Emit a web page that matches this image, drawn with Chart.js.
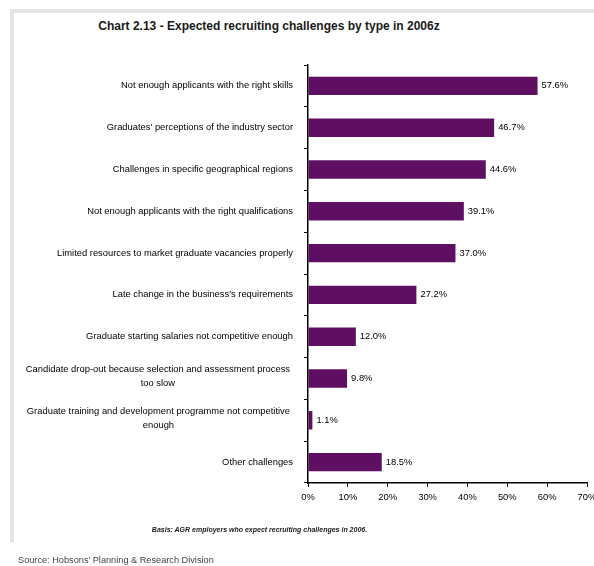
<!DOCTYPE html>
<html>
<head>
<meta charset="utf-8">
<script src="https://cdn.jsdelivr.net/npm/chart.js@4"></script>
<style>
  html, body { margin: 0; padding: 0; background: #fff; overflow: hidden; }
  body { width: 594px; height: 566px; position: relative; font-family: "Liberation Sans", Arial, sans-serif; }
  .frame-top { position: absolute; left: 10px; top: 9px; width: 584px; height: 4px; background: #e4e4e4; }
  .frame-left { position: absolute; left: 10px; top: 9px; width: 4px; height: 533px; background: #e4e4e4; }
  #title { position: absolute; left: 0; width: 538px; top: 19px; text-align: center; font-weight: bold; font-size: 12px; color: #1a1a1a; }
  #basis { position: absolute; left: 0; width: 519px; top: 526px; text-align: center; font-weight: bold; font-style: italic; font-size: 7px; color: #1a1a1a; }
  #source { position: absolute; left: 18px; top: 555px; font-size: 9.2px; color: #444; }
  #wrap { position: absolute; left: 0; top: 0; width: 620px; height: 566px; }
</style>
</head>
<body>
<div class="frame-top"></div>
<div class="frame-left"></div>
<div id="title">Chart 2.13 - Expected recruiting challenges by type in 2006z</div>
<div id="wrap"><canvas id="chart"></canvas></div>
<div id="basis">Basis: AGR employers who expect recruiting challenges in 2006.</div>
<div id="source">Source: Hobsons’ Planning &amp; Research Division</div>
<script>
// Challenge types (multi-line entries are wrapped labels)
const categories = [
  'Not enough applicants with the right skills',
  "Graduates' perceptions of the industry sector",
  'Challenges in specific geographical regions',
  'Not enough applicants with the right qualifications',
  'Limited resources to market graduate vacancies properly',
  "Late change in the business's requirements",
  'Graduate starting salaries not competitive enough',
  ['Candidate drop-out because selection and assessment process', 'too slow'],
  ['Graduate training and development programme not competitive', 'enough'],
  'Other challenges'
];

// Share of employers expecting each challenge (%)
const shares = [57.6, 46.7, 44.6, 39.1, 37.0, 27.2, 12.0, 9.8, 1.1, 18.5];

// Percentage axis ticks
const xTicks = [0, 10, 20, 30, 40, 50, 60, 70];

const FONT = '"Liberation Sans", Arial, sans-serif';
const LABEL_FONT = '9.4px ' + FONT;
const TEXT_COLOR = '#000';

// Category labels: single lines right-aligned against the axis,
// wrapped labels centred within a right-aligned block
const categoryLabels = {
  id: 'categoryLabels',
  afterDraw(chart) {
    const ctx = chart.ctx;
    const y = chart.scales.y;
    const right = 293;
    ctx.save();
    ctx.font = LABEL_FONT;
    ctx.fillStyle = TEXT_COLOR;
    ctx.textBaseline = 'middle';
    categories.forEach((lab, i) => {
      const cy = y.getPixelForValue(i);
      if (Array.isArray(lab)) {
        const lh = 13.5;
        const w = Math.max(...lab.map(s => ctx.measureText(s).width));
        const cx = right - 3 - w / 2;
        ctx.textAlign = 'center';
        lab.forEach((line, k) => {
          ctx.fillText(line, cx, cy - 2 + (k - (lab.length - 1) / 2) * lh);
        });
      } else {
        ctx.textAlign = 'right';
        ctx.fillText(lab, right, cy);
      }
    });
    ctx.restore();
  }
};

// Value labels just past the end of each bar
const valueLabels = {
  id: 'valueLabels',
  afterDatasetsDraw(chart) {
    const ctx = chart.ctx;
    const meta = chart.getDatasetMeta(0);
    ctx.save();
    ctx.font = LABEL_FONT;
    ctx.fillStyle = TEXT_COLOR;
    ctx.textBaseline = 'middle';
    ctx.textAlign = 'left';
    meta.data.forEach((bar, i) => {
      ctx.fillText(shares[i].toFixed(1) + '%', bar.x + 4, bar.y);
    });
    ctx.restore();
  }
};

new Chart(document.getElementById('chart'), {
  type: 'bar',
  data: {
    labels: categories,
    datasets: [{
      data: shares,
      backgroundColor: '#5e0f62',
      borderWidth: 0,
      barPercentage: 0.44,
      categoryPercentage: 1
    }]
  },
  options: {
    indexAxis: 'y',
    responsive: true,
    maintainAspectRatio: false,
    animation: false,
    layout: { padding: { left: 0, top: 65, right: 33, bottom: 63 } },
    plugins: {
      legend: { display: false },
      title: { display: false },
      tooltip: { enabled: false }
    },
    scales: {
      y: {
        type: 'category',
        offset: true,
        afterFit(scale) { scale.width = 308; },
        ticks: { display: false },
        grid: {
          display: true,
          offset: true,
          drawOnChartArea: false,
          drawTicks: true,
          tickLength: 4,
          color: '#000',
          lineWidth: 1
        },
        border: { display: true, color: '#000', width: 1.5 }
      },
      x: {
        type: 'linear',
        min: xTicks[0],
        max: xTicks[xTicks.length - 1],
        afterFit(scale) { scale.height = 20; },
        afterBuildTicks(scale) { scale.ticks = xTicks.map(v => ({ value: v })); },
        ticks: {
          callback: v => v + '%',
          font: { size: 9.4, family: FONT },
          color: TEXT_COLOR,
          padding: 5,
          maxRotation: 0
        },
        grid: {
          display: true,
          drawOnChartArea: false,
          drawTicks: true,
          tickLength: 4,
          color: '#000',
          lineWidth: 1
        },
        border: { display: true, color: '#000', width: 1.5 }
      }
    }
  },
  plugins: [categoryLabels, valueLabels]
});
</script>
</body>
</html>
